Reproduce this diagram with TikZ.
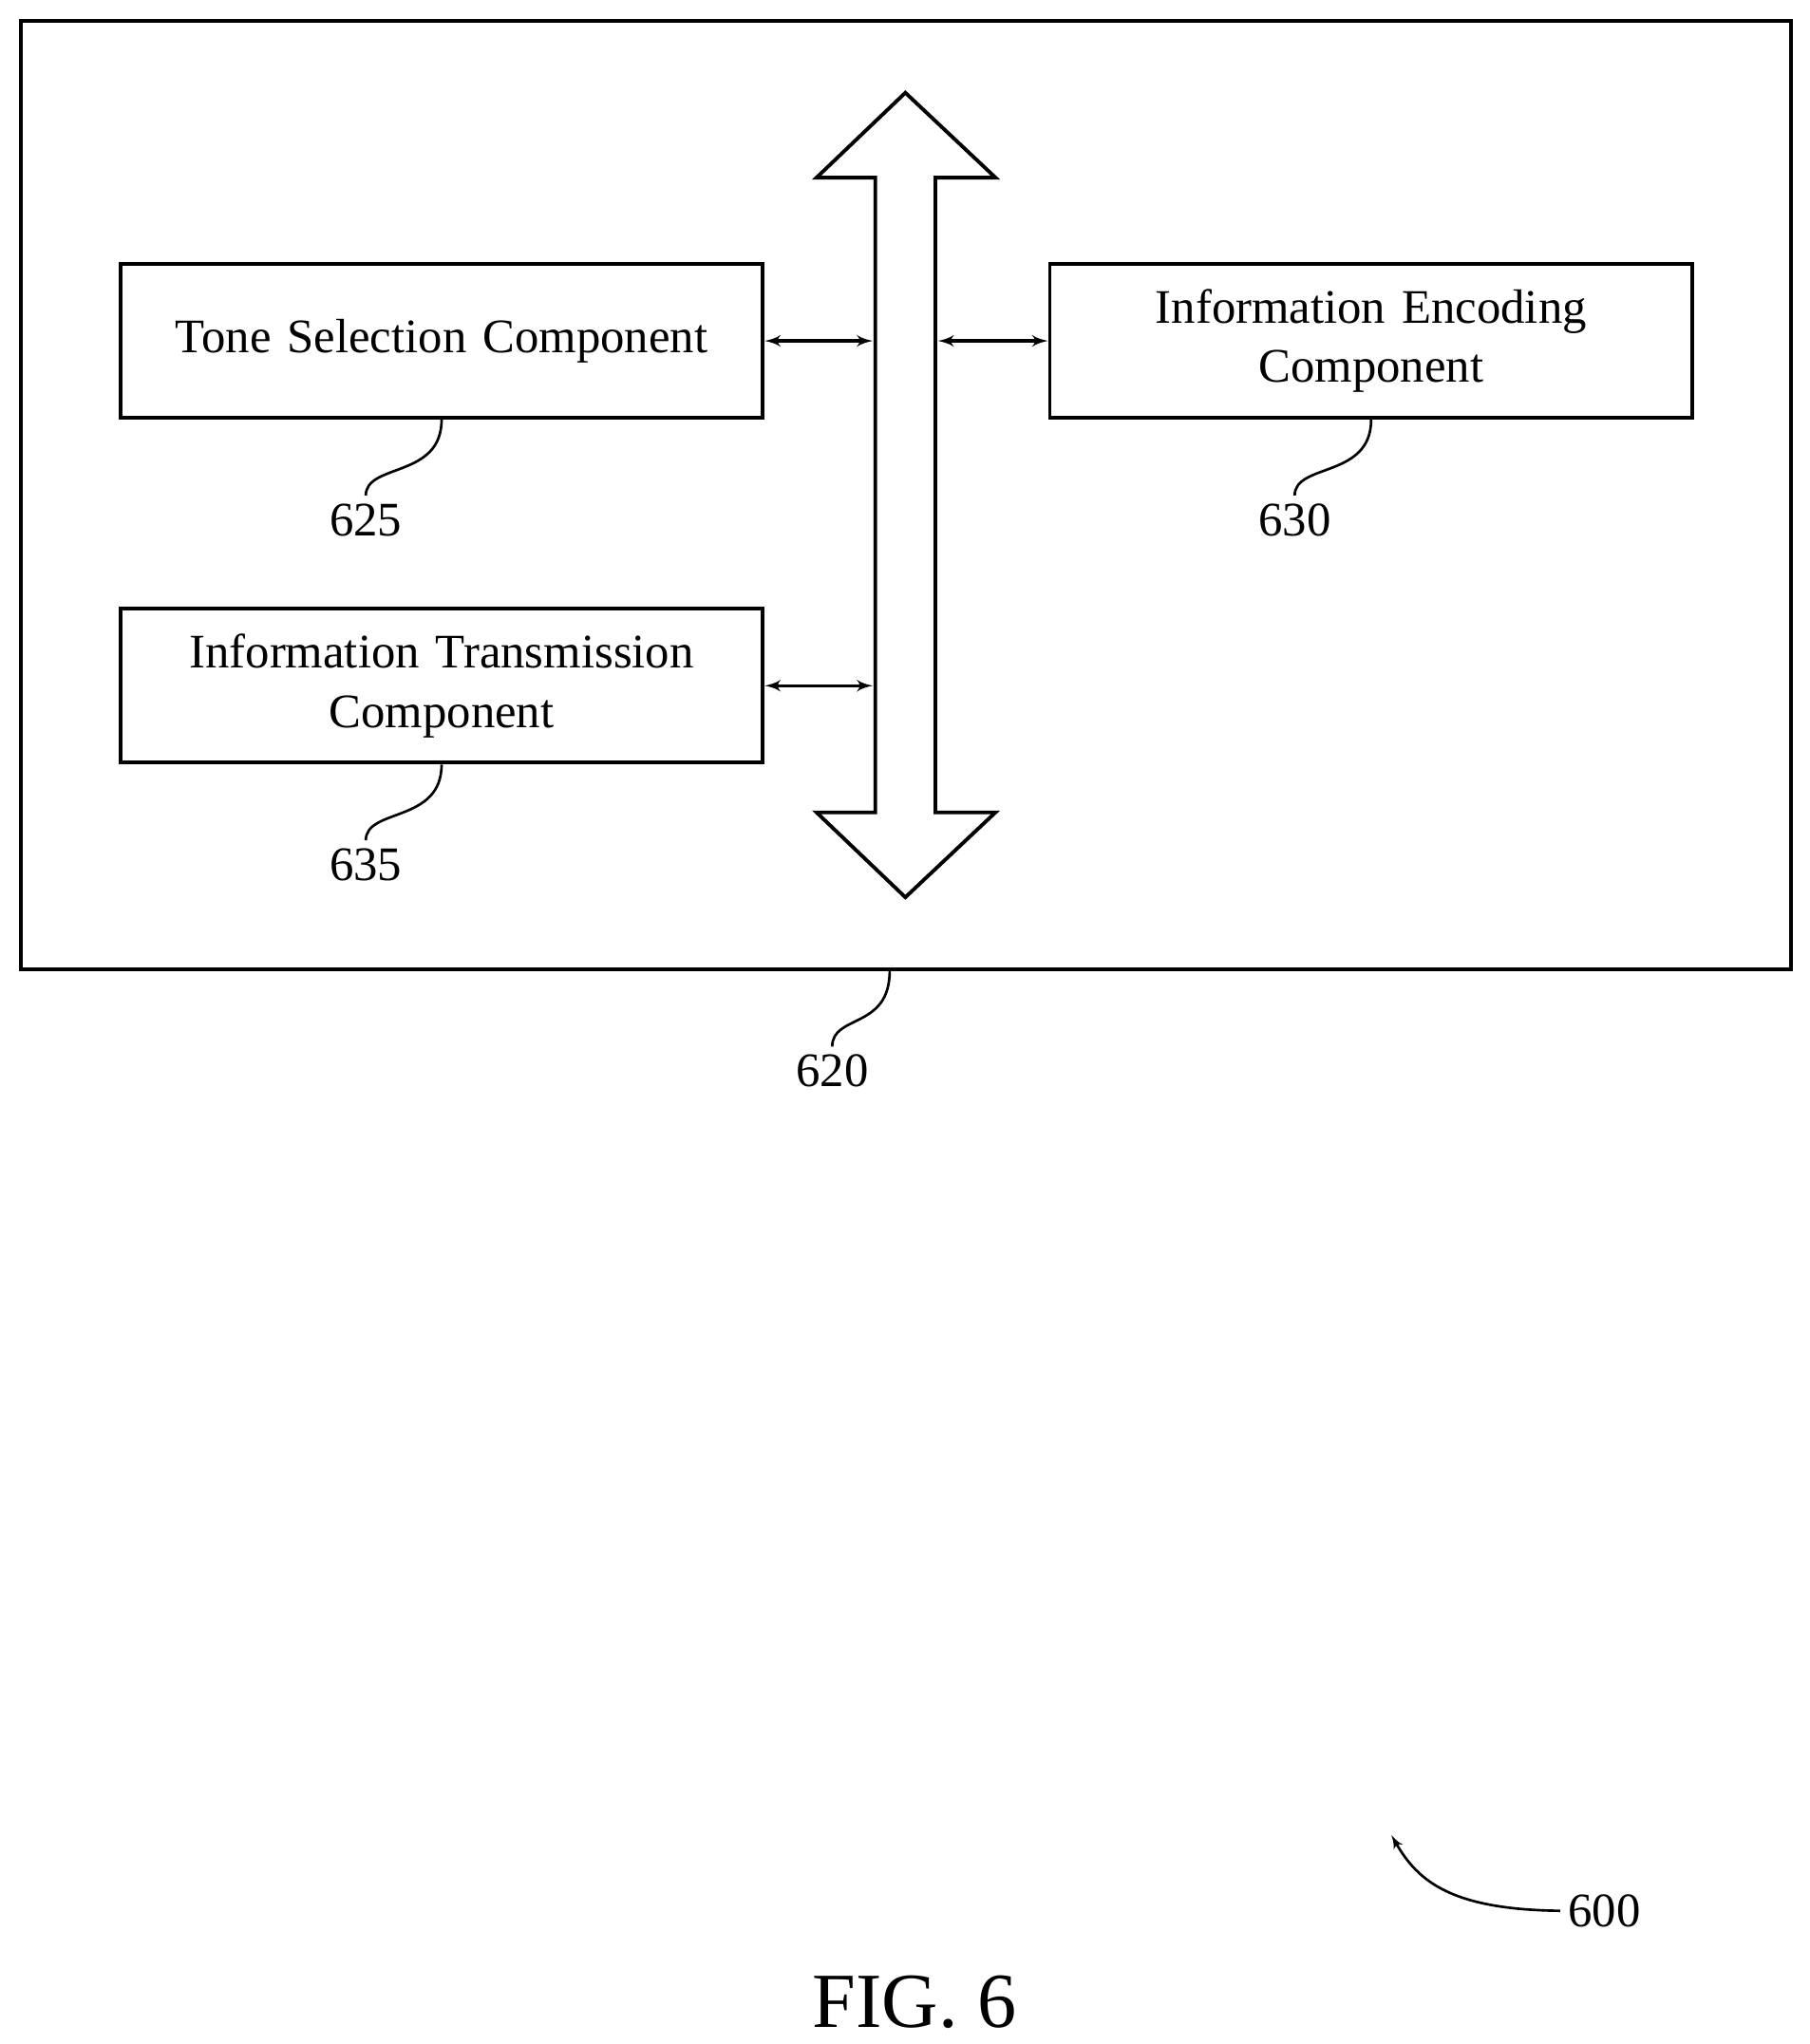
\documentclass[tikz,border=0pt]{standalone}
\usepackage{fontspec}
\setmainfont{Liberation Serif}
\usetikzlibrary{shapes,arrows,positioning}
\tikzstyle{block} = [rectangle, draw, line width=1.6pt, minimum width=9.84cm,
    minimum height=2.36cm, text width=9cm, text centered, font=\fontsize{21}{26}\selectfont]
\tikzstyle{line} = [draw, line width=1.4pt, latex'-latex']
\tikzstyle{ref} = [font=\fontsize{21}{26}\selectfont]
\tikzstyle{squig} = [draw, line width=1.1pt]
\begin{document}
\begin{tikzpicture}[x=0.02cm, y=-0.02cm]
        \useasboundingbox (0,0) rectangle (1385,1565);
        % Outer box
        \node (outer) [draw, line width=1.6pt, minimum width=27.1cm, minimum height=14.52cm] at (693.5,379) {};
        % Bus
        \draw[line width=1.6pt, fill=white] (693,71) -- (762,136) -- (716,136) -- (716,622) -- (762,622)
            -- (693,687) -- (625,622) -- (670,622) -- (670,136) -- (625,136) -- cycle;
        \coordinate (busL1) at (668,261);
        \coordinate (busR1) at (718,261);
        \coordinate (busL2) at (668,525);
        % Place nodes
        \node (tone) [block] at (338,261) {Tone Selection Component};
        \node (encode) [block] at (1049.5,261) {Information Encoding\\Component};
        \node (trans) [block] at (338,525) {Information Transmission\\Component};
        \path [line] (tone.east) -- (busL1);
        \path [line] (busR1) -- (encode.west);
        \path [line] (trans.east) -- (busL2);
        % Reference numerals
        \node (n625) [ref] at (280,398) {625};
        \node (n630) [ref] at (991,398) {630};
        \node (n635) [ref] at (280,662) {635};
        \node (n620) [ref] at (637,820) {620};
        \path [squig] (tone.south) .. controls ++(0,45) and ++(0,-25) .. (n625.north);
        \path [squig] (encode.south) .. controls ++(0,45) and ++(0,-25) .. (n630.north);
        \path [squig] (trans.south) .. controls ++(0,45) and ++(0,-25) .. (n635.north);
        \path [squig] (outer.south -| 681,0) .. controls ++(0,45) and ++(0,-25) .. (n620.north);
        \node (n600) [ref] at (1228,1463) {600};
        \path [draw, line width=1.1pt, -latex'] (n600.west) .. controls (1110,1462) and (1085,1440) .. (1065,1405);
        \node (fig) [font=\fontsize{34}{40}\selectfont] at (700,1533) {FIG. 6};
    \end{tikzpicture}
\end{document}
